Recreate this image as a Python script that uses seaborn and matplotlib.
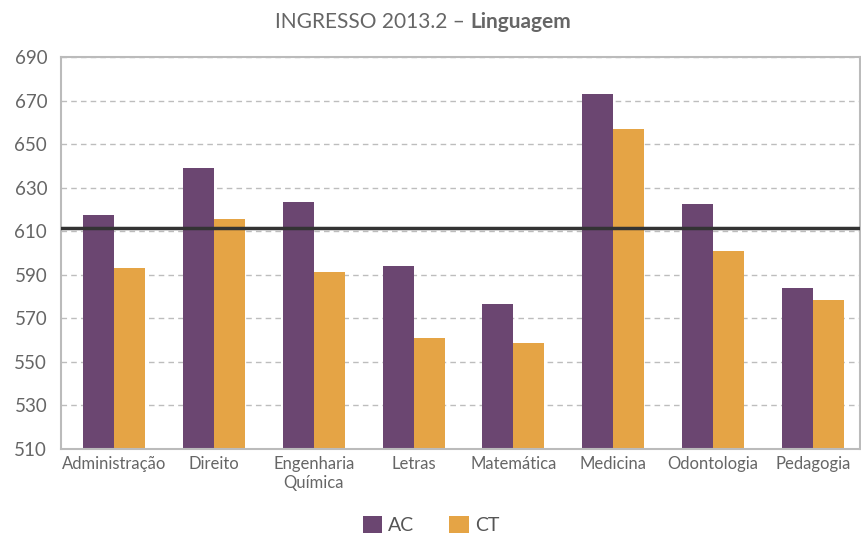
import pandas as pd
import matplotlib.pyplot as plt
import seaborn as sns

cursos = ["Administração", "Direito", "Engenharia\nQuímica", "Letras",
          "Matemática", "Medicina", "Odontologia", "Pedagogia"]
ac = [617.6, 639.2, 623.6, 594.1, 576.7, 673.2, 622.6, 584.0]
ct = [593.2, 615.7, 591.4, 561.0, 558.7, 657.1, 601.0, 578.5]
media = 611.4

df = pd.DataFrame({
    "Curso": cursos * 2,
    "Grupo": ["AC"] * len(cursos) + ["CT"] * len(cursos),
    "Nota": ac + ct,
})

sns.set_style("white")
plt.rcParams["font.family"] = ["Lato", "DejaVu Sans"]

fig = plt.figure(figsize=(8.62, 5.35), dpi=100)
ax = fig.add_axes([0.0708, 0.1607, 0.9269, 0.7328])

cores = {"AC": "#6B4671", "CT": "#E5A445"}
sns.barplot(data=df, x="Curso", y="Nota", hue="Grupo", palette=cores,
            width=0.62, saturation=1, linewidth=0, ax=ax, legend=True)

ax.set_ylim(510, 690)
ax.set_yticks(range(510, 691, 20))
ax.set_xlim(-0.53, 7.47)
ax.yaxis.grid(True, color="#BDBDBD", linestyle=(0, (4, 3)), linewidth=1)
ax.set_axisbelow(True)
ax.axhline(media, color="#333333", linewidth=2.5, zorder=5)

for s in ax.spines.values():
    s.set_color("#BBBBBB")
    s.set_linewidth(1.5)

ax.set_xlabel("")
ax.set_ylabel("")
ax.tick_params(axis="both", length=0, labelcolor="#666666")
ax.tick_params(axis="y", labelsize=13.5, pad=10)
ax.tick_params(axis="x", labelsize=12, pad=5)

ax.get_legend().remove()
h, l = ax.get_legend_handles_labels()
fig.legend(h, l, loc="center", bbox_to_anchor=(0.5, 0.019), ncol=2,
           frameon=False, fontsize=14, handlelength=1.0, handleheight=1.0,
           handletextpad=0.3, columnspacing=1.8, labelcolor="#555555")

fig.text(0.319, 0.958, "INGRESSO 2013.2 – ", ha="left", va="center",
         fontsize=15, color="#666666")
t1 = fig.texts[-1]
fig.canvas.draw()
bb = t1.get_window_extent().transformed(fig.transFigure.inverted())
fig.text(bb.x1, 0.958, "Linguagem", ha="left", va="center",
         fontsize=15, color="#666666", fontweight="bold")

fig.savefig("out.png", dpi=100)
